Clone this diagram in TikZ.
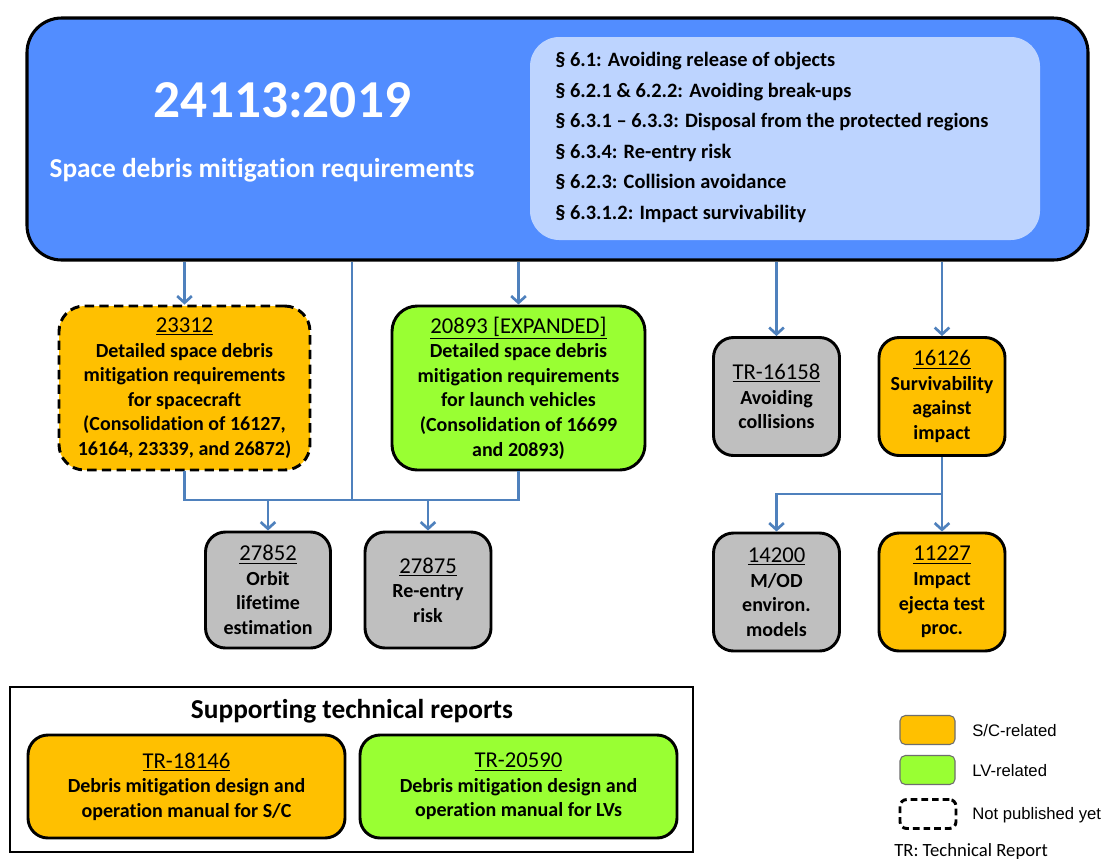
\documentclass[tikz,border=0pt]{standalone}
\usepackage{fontspec}
\setmainfont{Carlito}[Ligatures={NoCommon}]
\newfontfamily\legendfont{Liberation Sans}
\usetikzlibrary{arrows.meta}
\definecolor{mainblue}{RGB}{82,141,255}
\definecolor{lightblue}{RGB}{189,212,255}
\definecolor{scorange}{RGB}{255,192,0}
\definecolor{lvgreen}{RGB}{153,255,51}
\definecolor{boxgray}{RGB}{191,191,191}
\definecolor{connblue}{RGB}{79,129,189}
\definecolor{swatchline}{RGB}{110,110,110}
\newcommand\numtxt[1]{{\fontsize{17}{18.4}\selectfont\mdseries\underline{#1}}}
\begin{document}
\begin{tikzpicture}[x=0.75pt,y=-0.75pt,
  wh/.style 2 args={minimum width=#1*0.75pt,minimum height=#2*0.75pt},
  conn/.style={draw=connblue,line width=2pt},
  arr/.style={conn,-{Straight Barb[length=5pt,width=11pt]}},
  docbox/.style={draw=black,line width=2.2pt,rounded corners=15pt,align=center,inner sep=0pt,
    font=\bfseries\fontsize{15}{18.4}\selectfont},
  bigbox/.style={docbox,rounded corners=19pt},
  notyet/.style={dash pattern=on 7pt off 4pt},
  swatch/.style={draw=swatchline,line width=0.8pt,rounded corners=4pt,wh={55}{29}},
  legtext/.style={anchor=west,inner sep=0pt,font=\legendfont\fontsize{12.5}{14}\selectfont}]
\useasboundingbox (0,0) rectangle (1105,861);
\clip (0,0) rectangle (1105,861);
\fill[white] (0,0) rectangle (1105,861);

% main requirement box
\node[draw=black,line width=2.3pt,fill=mainblue,rounded corners=26pt,wh={1061}{242}] (main) at (557.5,139) {};
\node[fill=lightblue,rounded corners=22pt,wh={510}{203}] (sec) at (785,138.5) {};
\node[anchor=west,align=left,inner sep=0pt,font=\bfseries\fontsize{15.3}{22.95}\selectfont] (list) at (555,137.5)
  {§ 6.1: Avoiding release of objects\\
   § 6.2.1 \& 6.2.2: Avoiding break-ups\\
   § 6.3.1 – 6.3.3: Disposal from the protected regions\\
   § 6.3.4: Re-entry risk\\
   § 6.2.3: Collision avoidance\\
   § 6.3.1.2: Impact survivability};
\node[text=white,anchor=base,inner sep=0pt,font=\bfseries\fontsize{40}{48}\selectfont] (title) at (282,117) {24113:2019};
\node[text=white,anchor=base,inner sep=0pt,font=\bfseries\fontsize{20.5}{24}\selectfont] (subtitle) at (262,177) {Space debris mitigation requirements};

% document boxes
\node[bigbox,notyet,fill=scorange,wh={251}{164}] (a) at (184.5,388)
  {\numtxt{23312}\\Detailed space debris\\mitigation requirements\\for spacecraft\\(Consolidation of 16127,\\16164, 23339, and 26872)};
\node[bigbox,fill=lvgreen,wh={253}{164}] (b) at (518.5,388)
  {\numtxt{20893 [EXPANDED]}\\Detailed space debris\\mitigation requirements\\for launch vehicles\\(Consolidation of 16699\\and 20893)};
\node[docbox,fill=boxgray,wh={125}{116}] (e) at (268,590)
  {\numtxt{27852}\\Orbit\\lifetime\\estimation};
\node[docbox,fill=boxgray,wh={126}{116}] (f) at (428,590)
  {\numtxt{27875}\\Re-entry\\risk};
\node[docbox,fill=boxgray,wh={126}{118}] (c) at (776.5,396.5)
  {\numtxt{TR-16158}\\Avoiding\\collisions};
\node[docbox,fill=scorange,wh={126}{118}] (d) at (942,396.5)
  {\numtxt{16126}\\Survivability\\against\\impact};
\node[docbox,fill=boxgray,wh={126}{118}] (g) at (776.5,592)
  {\numtxt{14200}\\M/OD\\environ.\\models};
\node[docbox,fill=scorange,wh={126}{118}] (h) at (942,592)
  {\numtxt{11227}\\Impact\\ejecta test\\proc.};

% connectors
\coordinate (j1) at (352,500);
\coordinate (j2) at (942,494);
\draw[arr] (main.south -| a.north) -- (a.north);
\draw[arr] (main.south -| b.north) -- (b.north);
\draw[arr] (main.south -| c.north) -- (c.north);
\draw[arr] (main.south -| d.north) -- (d.north);
\draw[conn] (main.south -| j1) -- (j1);
\draw[conn] (a.south) |- (j1) -| (b.south);
\draw[arr] (e.north |- j1) -- (e.north);
\draw[arr] (f.north |- j1) -- (f.north);
\draw[conn] (d.south) -- (j2);
\draw[arr] (j2) -- (h.north);
\draw[arr] (j2) -| (g.north);

% supporting technical reports
\node[draw=black,line width=1.2pt,wh={683}{165}] (supp) at (351.5,769.5) {};
\node[inner sep=0pt,font=\bfseries\fontsize{20.5}{24}\selectfont] (supptitle) at (352,711) {Supporting technical reports};
\node[docbox,fill=scorange,wh={317}{103}] (tr1) at (186.5,786.5)
  {\numtxt{TR-18146}\\Debris mitigation design and\\operation manual for S/C};
\node[docbox,fill=lvgreen,wh={317}{103}] (tr2) at (518.5,786.5)
  {\numtxt{TR-20590}\\Debris mitigation design and\\operation manual for LVs};

% legend
\node[swatch,fill=scorange] (ls1) at (927.5,730) {};
\node[swatch,fill=lvgreen] (ls2) at (927.5,770) {};
\node[draw=black,line width=2.2pt,dash pattern=on 5pt off 3pt,rounded corners=5pt,wh={56}{29}] (ls3) at (928,814) {};
\node[legtext] (lt1) at (972,731) {S/C-related};
\node[legtext] (lt2) at (972,771) {LV-related};
\node[legtext] (lt3) at (972,815) {Not published yet};
\node[anchor=base west,inner sep=0pt,font=\fontsize{14}{16}\selectfont] (trnote) at (894,856) {TR: Technical Report};
\end{tikzpicture}
\end{document}
